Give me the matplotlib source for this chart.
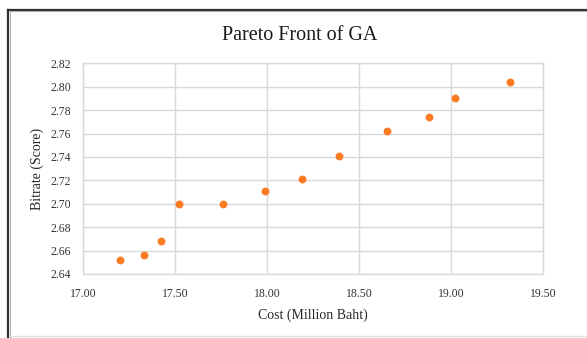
import matplotlib
matplotlib.use("Agg")
import matplotlib.pyplot as plt
from matplotlib.lines import Line2D

# GA pareto front solutions
cost = [17.20, 17.33, 17.42, 17.52, 17.76, 17.99, 18.19, 18.39, 18.65, 18.88, 19.02, 19.32]
bitrate = [2.652, 2.656, 2.668, 2.700, 2.700, 2.711, 2.721, 2.741, 2.762, 2.774, 2.790, 2.804]

x_ticks = [17.00, 17.50, 18.00, 18.50, 19.00, 19.50]
y_ticks = [2.64, 2.66, 2.68, 2.70, 2.72, 2.74, 2.76, 2.78, 2.80, 2.82]

plt.rcParams['font.family'] = ['Liberation Serif', 'DejaVu Serif']

W, H = 587, 338
fig = plt.figure(figsize=(W / 100, H / 100), dpi=100)
ax = fig.add_axes([83.3 / W, 1 - 274 / H, 460 / W, (274 - 63.3) / H])

grid_c = '#d9d9d9'
ax.scatter(cost, bitrate, s=32, color='#fb7a22', zorder=3, linewidths=0)

ax.set_xlim(17.0, 19.5)
ax.set_ylim(2.64, 2.82)
ax.set_xticks(x_ticks)
ax.set_yticks(y_ticks)
ax.set_xticklabels([f"{v:.2f}" for v in x_ticks])
ax.set_yticklabels([f"{v:.2f}" for v in y_ticks])
ax.tick_params(length=0, labelsize=8.5, colors='#333333', pad=9)
ax.tick_params(axis='x', pad=10)
ax.grid(True, color=grid_c, linewidth=1.0)
ax.set_axisbelow(True)
for s in ax.spines.values():
    s.set_color(grid_c)
    s.set_linewidth(1.0)

ax.set_xlabel('Cost (Million Baht)', fontsize=10, color='#262626', labelpad=6)
ax.set_ylabel('Bitrate (Score)', fontsize=10, color='#262626', labelpad=4)
fig.text(300 / W, 1 - 35 / H, 'Pareto Front of GA', fontsize=14.5, color='#1a1a1a',
         ha='center', va='center')

# chart frame: dark left/top edge with a lighter inner line, faint bottom edge
fig.add_artist(Line2D([8 / W, 8 / W], [0, 1 - 9.5 / H], transform=fig.transFigure,
                      color='#303030', linewidth=1.6))
fig.add_artist(Line2D([8 / W, 1], [1 - 9.5 / H, 1 - 9.5 / H], transform=fig.transFigure,
                      color='#303030', linewidth=1.6))
fig.add_artist(Line2D([9.5 / W, 9.5 / W], [0, 1 - 11 / H], transform=fig.transFigure,
                      color='#b0b0b0', linewidth=0.8))
fig.add_artist(Line2D([9.5 / W, 1], [1 - 11 / H, 1 - 11 / H], transform=fig.transFigure,
                      color='#b0b0b0', linewidth=0.8))
fig.add_artist(Line2D([9.5 / W, 1], [1 - 336 / H, 1 - 336 / H], transform=fig.transFigure,
                      color='#e0e0e0', linewidth=1.0))

fig.savefig('out.png', dpi=100)
